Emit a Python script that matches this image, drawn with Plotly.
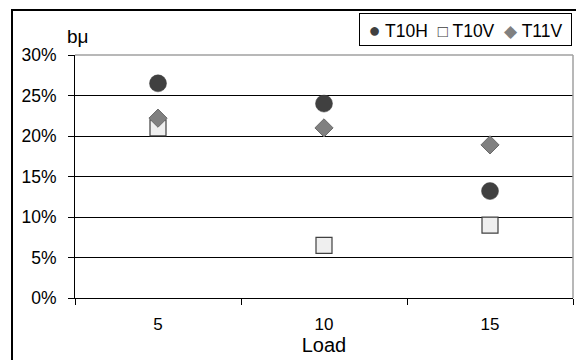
import plotly.graph_objects as go

# Data
loads = ["5", "10", "15"]
t10h = [0.265, 0.240, 0.132]
t10v = [0.210, 0.065, 0.090]
t11v = [0.222, 0.210, 0.189]
y_ticks = [0, 0.05, 0.10, 0.15, 0.20, 0.25, 0.30]
y_tick_text = ["0%", "5%", "10%", "15%", "20%", "25%", "30%"]
series_names = ["T10H", "T10V", "T11V"]

FONT = "Liberation Sans, Arial, sans-serif"
C_H = "#404040"
C_V = "#efefef"
C_D = "#808080"

fig = go.Figure()
fig.add_trace(go.Scatter(
    x=loads, y=t10h, mode="markers", name=series_names[0],
    marker=dict(symbol="circle", size=17, color=C_H,
                line=dict(color=C_H, width=0.5)),
))
fig.add_trace(go.Scatter(
    x=loads, y=t10v, mode="markers", name=series_names[1],
    marker=dict(symbol="square", size=16, color=C_V,
                line=dict(color=C_H, width=1.2)),
))
fig.add_trace(go.Scatter(
    x=loads, y=t11v, mode="markers", name=series_names[2],
    marker=dict(symbol="diamond", size=14, color=C_D,
                line=dict(color="#6a6a6a", width=1)),
))

W, H = 576, 360
L, R, T, B = 75, 3, 55, 62
plot_h = H - T - B

def py(pix):
    # pixel row -> paper y
    return (H - B - pix) / plot_h

def px(pix):
    return (pix - L) / (W - L - R)

# compact key box in the top-right corner
key_text = (
    f"<span style='color:{C_H};font-size:20px'>●</span> {series_names[0]}  "
    f"<span style='color:{C_H};font-size:17px'>□</span> {series_names[1]}  "
    f"<span style='color:{C_D};font-size:17px;font-family:DejaVu Sans'>◆</span> {series_names[2]}"
)

fig.update_layout(
    width=W, height=H,
    margin=dict(l=L, r=R, t=T, b=B),
    paper_bgcolor="white", plot_bgcolor="white",
    font=dict(family=FONT, size=17, color="black"),
    showlegend=False,
    xaxis=dict(
        type="category", range=[-0.5, 2.5],
        showline=True, linecolor="black", linewidth=1,
        ticks="outside", tickson="boundaries", ticklen=6, tickcolor="black",
        showgrid=False, zeroline=False,
        tickfont=dict(family=FONT, size=17), ticklabelstandoff=11,
        title=dict(text="Load", font=dict(family=FONT, size=20), standoff=0),
    ),
    yaxis=dict(
        range=[0, 0.30], tickvals=y_ticks, ticktext=y_tick_text,
        showline=True, linecolor="black", linewidth=1,
        ticks="outside", ticklen=6, tickcolor="black",
        showgrid=True, gridcolor="black", gridwidth=1, zeroline=False,
        tickfont=dict(family=FONT, size=17.5), ticklabelstandoff=8,
    ),
    shapes=[
        # plot-area border, top and right
        dict(type="line", xref="paper", yref="paper", x0=0, x1=1, y0=1, y1=1,
             line=dict(color="#a0a0a0", width=1.5), layer="above"),
        dict(type="line", xref="paper", yref="paper", x0=1, x1=1, y0=0, y1=1,
             line=dict(color="#a0a0a0", width=1.5), layer="above"),
        # outer chart frame
        dict(type="rect", xref="paper", yref="paper",
             x0=px(12), x1=px(590), y0=py(10), y1=py(380),
             line=dict(color="black", width=2), layer="above"),
    ],
    annotations=[
        dict(text="bμ", xref="paper", yref="paper", x=px(65), y=py(36),
             xanchor="left", yanchor="middle", showarrow=False,
             font=dict(family=FONT, size=19)),
        dict(text=key_text, xref="paper", yref="paper", x=px(572), y=py(12.5),
             xanchor="right", yanchor="top", showarrow=False,
             width=211, height=31, align="center", valign="middle",
             bordercolor="black", borderwidth=1, bgcolor="white", borderpad=0,
             font=dict(family=FONT, size=17.5, color="black")),
    ],
)

fig.write_html("out.html")
